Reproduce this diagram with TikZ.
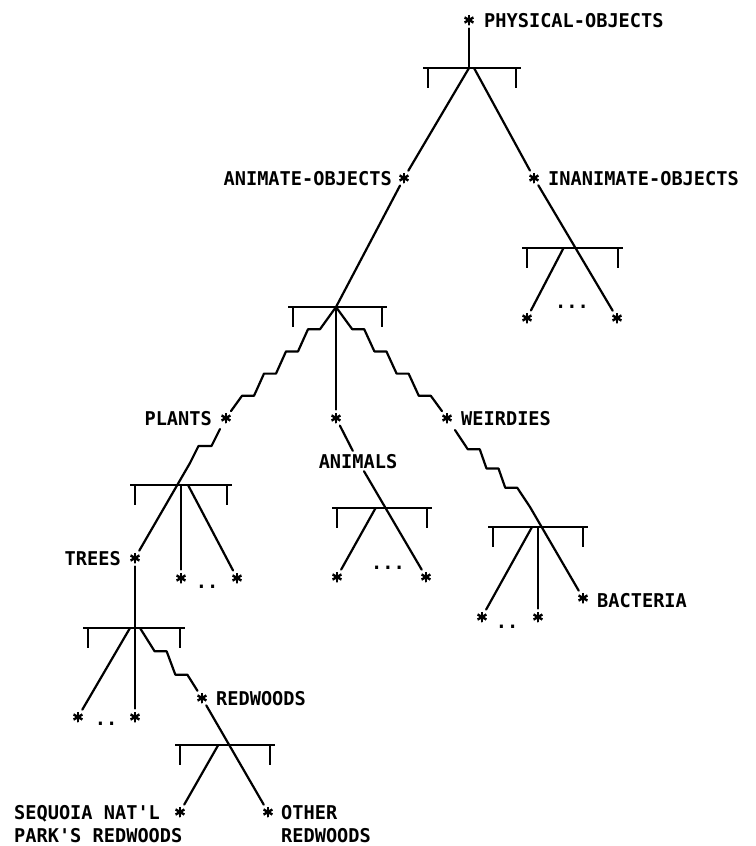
\documentclass[tikz,border=0pt]{standalone}
\usepackage{fontspec}
\setmonofont{DejaVu Sans Mono}[FakeStretch=0.98]
\usetikzlibrary{calc}
\newcommand\tbar[3]{%
  \draw[barln] (#1,#3) -- (#2,#3);
  \draw[tickln] (#1+5,#3) -- (#1+5,#3+20);
  \draw[tickln] (#2-5,#3) -- (#2-5,#3+20);}
\newcommand\stairs[4]{%
  \draw[ln] (#1) \foreach \k in {1,...,#3}{
     -- ($(#1)!{\k/(#3+1)}!(#2)+({-(#4)/2},0)$)
     -- ($(#1)!{\k/(#3+1)}!(#2)+({(#4)/2},0)$) } -- (#2);}
\begin{document}
\begin{tikzpicture}[x=1pt,y=-1pt,
  ast/.style={circle,minimum size=11pt,inner sep=0pt,outer sep=3pt,
    path picture={\foreach \a in {90,30,-30}{\draw[line width=2.4pt]
      ($(path picture bounding box.center)+(\a:5.5pt)$) --
      ($(path picture bounding box.center)+(\a+180:5.5pt)$);}}},
  lab/.style={font=\ttfamily\bfseries\fontsize{19}{21}\selectfont,inner sep=0pt,
    text height=14pt,text depth=0pt},
  dots/.style={font=\ttfamily\bfseries\fontsize{19}{21}\selectfont,inner sep=0pt,anchor=base},
  ln/.style={line width=2.2pt,line join=round,line cap=round},
  barln/.style={line width=2.6pt},
  tickln/.style={line width=2.2pt},
]
\useasboundingbox (0,0) rectangle (755,846);
% ---- top
\node[ast] (P) at (469,20) {};
\node[lab,anchor=west] (Pl) at (484,20) {PHYSICAL-OBJECTS};
\coordinate (J1) at (469,68);
\coordinate (J1r) at (474,68);
\tbar{423}{521}{68}
\draw[ln] (P) -- (J1);
\node[ast] (A) at (404,178) {};
\node[lab,anchor=east] (Al) at (392,178) {ANIMATE-OBJECTS};
\node[ast] (I) at (534,178) {};
\node[lab,anchor=west] (Il) at (548,178) {INANIMATE-OBJECTS};
\draw[ln] (J1) -- (A);
\draw[ln] (J1r) -- (I);
% ---- inanimate subtree
\coordinate (b2l) at (522,248); \coordinate (b2r) at (623,248);
\tbar{522}{623}{248}
\node[ast] (IL) at (527,318) {};
\node[ast] (IR) at (617,318) {};
\draw[ln] (I) -- (IR);
\coordinate (J2) at (intersection of I--IR and b2l--b2r);
\coordinate (J2l) at ($(J2)+(-12,0)$);
\draw[ln] (J2l) -- (IL);
\node[dots] (Id) at (572,308) {...};
% ---- animate subtree
\coordinate (J3) at (336,307);
\tbar{288}{387}{307}
\draw[ln] (A) -- (J3);
\node[ast] (PL) at (226,418) {};
\node[lab,anchor=east] (PLl) at (212,418) {PLANTS};
\node[ast] (M) at (336,418) {};
\node[ast] (W) at (447,418) {};
\node[lab,anchor=west] (Wl) at (461,418) {WEIRDIES};
\stairs{J3}{PL}{4}{-12}
\draw[ln] (J3) -- (M);
\stairs{J3}{W}{4}{12}
% ---- animals
\node[lab,inner sep=3pt] (AN) at (358,461) {ANIMALS};
\draw[ln] (M) -- (AN);
\coordinate (b8l) at (332,508); \coordinate (b8r) at (432,508);
\tbar{332}{432}{508}
\node[ast] (AL) at (337,577) {};
\node[ast] (AR) at (426,577) {};
\draw[ln] (AN) -- (AR);
\coordinate (J8) at (intersection of AN--AR and b8l--b8r);
\coordinate (J8l) at ($(J8)+(-10,0)$);
\draw[ln] (J8l) -- (AL);
\node[dots] (ANd) at (388,569) {...};
% ---- plants subtree
\coordinate (PLs) at (220,429);
\coordinate (PLx) at (190,463);
\coordinate (J4m) at (181,485);
\coordinate (J4r) at (188,485);
\tbar{130}{232}{485}
\stairs{PLs}{PLx}{1}{-13}
\node[ast] (T) at (135,558) {};
\node[lab,anchor=east] (Tl) at (121,558) {TREES};
\draw[ln] (PLx) -- (T);
\node[ast] (PM) at (181,578) {};
\node[ast] (PR) at (237,578) {};
\draw[ln] (J4m) -- (PM);
\draw[ln] (J4r) -- (PR);
\node[dots] (PLd) at (207,588) {..};
% ---- trees subtree
\coordinate (J5l) at (130,628);
\coordinate (J5r) at (140,628);
\tbar{83}{185}{628}
\node[ast] (TL) at (78,717) {};
\node[ast] (TM) at (135,717) {};
\draw[ln] (T) -- (TM);
\draw[ln] (J5l) -- (TL);
\node[ast] (R) at (202,698) {};
\node[lab,anchor=west] (Rl) at (216,698) {REDWOODS};
\stairs{J5r}{R}{2}{12}
\node[dots] (Td) at (106,725) {..};
% ---- redwoods subtree
\coordinate (b6l) at (175,745); \coordinate (b6r) at (275,745);
\tbar{175}{275}{745}
\node[ast] (SQ) at (180,812) {};
\node[ast] (OR) at (268,812) {};
\draw[ln] (R) -- (OR);
\coordinate (J6) at (intersection of R--OR and b6l--b6r);
\coordinate (J6l) at ($(J6)+(-11,0)$);
\draw[ln] (J6l) -- (SQ);
\node[lab,anchor=west] (SQl1) at (14,812) {SEQUOIA NAT'L};
\node[lab,anchor=west] (SQl2) at (14,835) {PARK'S REDWOODS};
\node[lab,anchor=west] (ORl1) at (281,812) {OTHER};
\node[lab,anchor=west] (ORl2) at (281,835) {REDWOODS};
% ---- weirdies subtree
\coordinate (Ws) at (455,430);
\coordinate (Wx) at (530,507);
\coordinate (J7l) at (532,527);
\coordinate (J7m) at (538,527);
\tbar{488}{588}{527}
\stairs{Ws}{Wx}{3}{12}
\node[ast] (B) at (583,598) {};
\node[lab,anchor=west] (Bl) at (597,600) {BACTERIA};
\draw[ln] (Wx) -- (B);
\node[ast] (WL) at (482,617) {};
\node[ast] (WM) at (538,617) {};
\draw[ln] (J7l) -- (WL);
\draw[ln] (J7m) -- (WM);
\node[dots] (Wd) at (507,628) {..};
\end{tikzpicture}
\end{document}
